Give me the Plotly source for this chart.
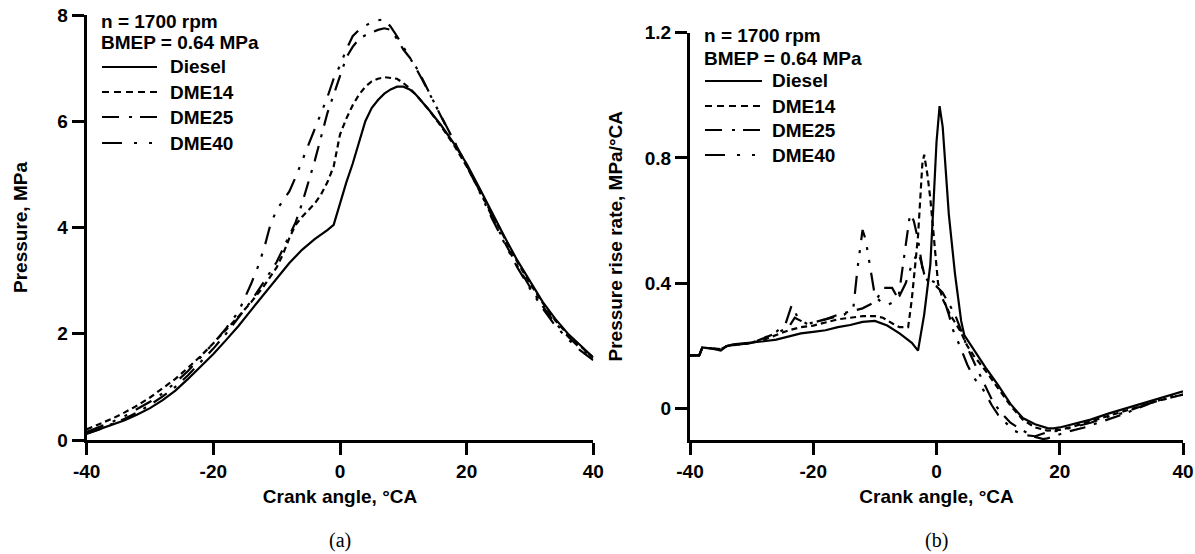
import plotly.graph_objects as go

# ---------------- data: (a) cylinder pressure ----------------
ca_p_diesel = [-40,-38,-36,-34,-32,-30,-28,-26,-24,-22,-20,-18,-16,-14,-12,-10,-8,-6,-4,-2,-1,0,1,2,3,4,5,6,7,8,9,10,11,12,14,16,18,20,22,24,26,28,30,32,34,36,38,40]
p_diesel = [0.12,0.2,0.28,0.37,0.48,0.6,0.75,0.93,1.15,1.38,1.62,1.88,2.15,2.45,2.75,3.05,3.33,3.58,3.78,3.95,4.05,4.45,4.85,5.2,5.6,6.0,6.25,6.4,6.52,6.6,6.65,6.65,6.6,6.5,6.22,5.92,5.58,5.2,4.75,4.28,3.82,3.38,2.98,2.6,2.28,2.0,1.78,1.55]

ca_p_dme14 = [-40,-38,-36,-34,-32,-30,-28,-26,-24,-22,-20,-18,-16,-14,-12,-10,-9,-8,-7,-6,-5,-4,-3,-2,-1,0,1,2,3,4,5,6,7,8,9,10,11,12,14,16,18,20,22,24,26,28,30,32,34,36,38,40]
p_dme14 = [0.2,0.3,0.4,0.52,0.65,0.8,0.97,1.15,1.36,1.58,1.82,2.07,2.33,2.6,2.9,3.25,3.5,3.8,4.05,4.2,4.32,4.45,4.62,4.85,5.15,5.75,6.05,6.3,6.5,6.65,6.75,6.8,6.83,6.82,6.8,6.72,6.62,6.5,6.22,5.9,5.55,5.15,4.7,4.25,3.8,3.35,2.95,2.58,2.25,1.98,1.76,1.55]

ca_p_dme25 = [-40,-38,-36,-34,-32,-30,-28,-26,-24,-22,-20,-18,-16,-14,-12,-10,-9,-8,-7,-6,-5,-4,-3,-2,-1,0,1,2,3,4,5,6,7,8,9,10,11,12,13,14,16,18,20,22,24,26,28,30,32,34,36,38,40]
p_dme25 = [0.12,0.2,0.3,0.4,0.52,0.66,0.82,1.0,1.22,1.46,1.72,2.0,2.3,2.62,2.98,3.35,3.6,3.85,4.1,4.45,4.85,5.25,5.7,6.15,6.5,6.85,7.2,7.4,7.55,7.62,7.67,7.72,7.75,7.72,7.55,7.35,7.2,7.02,6.8,6.55,6.08,5.62,5.18,4.7,4.2,3.72,3.28,2.88,2.52,2.2,1.95,1.72,1.55]

ca_p_dme40 = [-40,-38,-36,-34,-32,-30,-28,-26,-24,-22,-20,-18,-16,-14,-13,-12,-11,-10,-9,-8,-7,-6,-5,-4,-3,-2,-1,0,1,2,3,4,5,6,7,8,9,10,11,12,13,14,16,18,20,22,24,26,28,30,32,34,36,38,40]
p_dme40 = [0.15,0.24,0.34,0.45,0.58,0.72,0.88,1.08,1.3,1.55,1.82,2.1,2.42,2.95,3.25,3.6,4.05,4.33,4.5,4.68,4.95,5.25,5.55,5.85,6.15,6.45,6.8,7.05,7.35,7.6,7.72,7.8,7.86,7.9,7.92,7.78,7.6,7.4,7.22,7.0,6.78,6.55,6.1,5.63,5.17,4.68,4.17,3.7,3.25,2.85,2.48,2.15,1.9,1.68,1.5]

# ---------------- data: (b) pressure rise rate ----------------
ca_r_diesel = [-40,-38.5,-38,-36,-35,-34,-33,-30,-28,-26,-24,-22,-20,-18,-16,-14,-12,-10,-8,-6,-4,-3,-2,-1,-0.5,0,0.5,1,1.5,2,3,4,4.5,5,6,7,8,10,12,14,16,18,19,20,22,25,28,30,33,36,40]
r_diesel = [0.17,0.17,0.195,0.19,0.185,0.2,0.205,0.21,0.215,0.22,0.23,0.24,0.245,0.25,0.26,0.267,0.277,0.28,0.265,0.24,0.21,0.185,0.3,0.46,0.65,0.85,0.965,0.9,0.76,0.62,0.43,0.28,0.235,0.22,0.19,0.16,0.13,0.075,0.015,-0.03,-0.05,-0.062,-0.063,-0.06,-0.05,-0.035,-0.015,-0.003,0.015,0.033,0.055]

ca_r_dme14 = [-40,-38.5,-38,-35,-34,-30,-28,-26,-24,-22,-20,-18,-16,-14,-12,-10,-8.7,-7,-6,-4.6,-4,-3,-2.3,-2,-1.5,-1,-0.25,0.25,1,2.2,3.8,5,6,8,10,12,14,16,18,20,22,25,28,30,33,36,40]
r_dme14 = [0.17,0.17,0.195,0.19,0.2,0.21,0.22,0.235,0.25,0.26,0.265,0.275,0.285,0.29,0.295,0.295,0.29,0.27,0.26,0.26,0.35,0.55,0.78,0.81,0.75,0.67,0.5,0.4,0.35,0.3,0.25,0.2,0.17,0.12,0.065,0.01,-0.035,-0.06,-0.07,-0.068,-0.058,-0.04,-0.022,-0.01,0.008,0.025,0.045]

ca_r_dme25 = [-40,-38.5,-38,-35,-34,-30,-28,-26,-25,-24,-23,-22,-21,-20,-18,-16,-14,-12,-10,-8.6,-7.2,-6.2,-5.5,-4.8,-4.3,-3.7,-3,-2.3,-1.5,-1,0,1,2.2,3,4,4.9,6.5,8,9.2,10.6,12,14,16,17.3,18,19.5,21,24,27,30,35,40]
r_dme25 = [0.17,0.17,0.195,0.19,0.2,0.21,0.225,0.24,0.25,0.26,0.29,0.28,0.27,0.275,0.285,0.3,0.31,0.32,0.34,0.385,0.385,0.35,0.45,0.56,0.62,0.6,0.54,0.45,0.41,0.4,0.39,0.37,0.33,0.3,0.25,0.2,0.13,0.07,0.02,-0.015,-0.045,-0.07,-0.09,-0.097,-0.095,-0.085,-0.075,-0.06,-0.04,-0.02,0.02,0.045]

ca_r_dme40 = [-40,-38.5,-38,-35,-34,-30,-28,-26,-24.5,-23.5,-22.5,-21,-19,-17,-15,-13.5,-12.8,-12,-11.5,-10.5,-10,-9,-8,-7,-6,-5,-4,-3,-2.5,-2,-1,0,1,2,2.7,4,5,6,7.6,9,10,12.5,14.6,16,17,18,20,22,25,28,30,35,40]
r_dme40 = [0.17,0.17,0.195,0.19,0.2,0.21,0.225,0.245,0.27,0.33,0.29,0.27,0.28,0.29,0.3,0.32,0.45,0.57,0.54,0.42,0.36,0.34,0.33,0.34,0.36,0.4,0.46,0.5,0.47,0.43,0.41,0.4,0.36,0.3,0.25,0.19,0.14,0.1,0.06,0.01,-0.02,-0.07,-0.085,-0.088,-0.082,-0.075,-0.07,-0.06,-0.045,-0.025,-0.015,0.02,0.05]

names = ["Diesel", "DME14", "DME25", "DME40"]
legend_head = ["n = 1700 rpm", "BMEP = 0.64 MPa"]
x_tickvals = [-40, -20, 0, 20, 40]
x_ticktext = ["-40", "-20", "0", "20", "40"]
p_tickvals = [0, 2, 4, 6, 8]
p_ticktext = ["0", "2", "4", "6", "8"]
r_tickvals = [0, 0.4, 0.8, 1.2]
r_ticktext = ["0", "0.4", "0.8", "1.2"]

dashes = ["solid", "6px,4px", "16px,9px,3px,9px", "18px,10px,3px,10px,3px,10px"]
legend_dashes = ["solid", "7px,5px", "17px,10px,3px,8px", "20px,12px,3px,12px,3px,12px"]

W, H = 1195, 554
FONT = "Liberation Sans, Arial, sans-serif"
LW = 2.2


def fx(v):
    return v / W


def fy(v):
    return 1 - v / H


fig = go.Figure()

p_x = [ca_p_diesel, ca_p_dme14, ca_p_dme25, ca_p_dme40]
p_y = [p_diesel, p_dme14, p_dme25, p_dme40]
r_x = [ca_r_diesel, ca_r_dme14, ca_r_dme25, ca_r_dme40]
r_y = [r_diesel, r_dme14, r_dme25, r_dme40]

for i, nm in enumerate(names):
    fig.add_trace(go.Scatter(x=p_x[i], y=p_y[i], mode="lines", name=nm, showlegend=False,
                             line=dict(color="black", width=LW, dash=dashes[i]),
                             xaxis="x", yaxis="y"))
for i, nm in enumerate(names):
    fig.add_trace(go.Scatter(x=r_x[i], y=r_y[i], mode="lines", name=nm, showlegend=False,
                             line=dict(color="black", width=LW, dash=dashes[i]),
                             xaxis="x2", yaxis="y2"))

axis_common = dict(showline=True, linecolor="black", linewidth=3, ticks="outside",
                   ticklen=12, tickwidth=3, tickcolor="black", showgrid=False,
                   zeroline=False, mirror=False,
                   tickfont=dict(family=FONT, size=19, color="black", weight="bold"))

title_font = dict(family=FONT, size=19, color="black", weight="bold")
bold = dict(family=FONT, size=19, color="black", weight="bold")

# legend blocks (one per panel): header lines + line samples with labels
annotations = []
shapes = []
legend_blocks = [
    dict(x0=102, head_y=[21.7, 43.0], item_y=[67, 92, 117, 143], s_len=55, t_x=170),
    dict(x0=705, head_y=[35.0, 58.0], item_y=[81, 106, 130, 155], s_len=57, t_x=772),
]
for blk in legend_blocks:
    for txt, yy in zip(legend_head, blk["head_y"]):
        annotations.append(dict(text=txt, x=fx(blk["x0"] - 2), y=fy(yy), xref="paper", yref="paper",
                                showarrow=False, xanchor="left", yanchor="middle", font=bold,
                                borderpad=0))
    for nm, dsh, yy in zip(names, legend_dashes, blk["item_y"]):
        shapes.append(dict(type="line", xref="paper", yref="paper",
                           x0=fx(blk["x0"]), x1=fx(blk["x0"] + blk["s_len"]),
                           y0=fy(yy), y1=fy(yy),
                           line=dict(color="black", width=2.2, dash=dsh)))
        annotations.append(dict(text=nm, x=fx(blk["t_x"] - 1), y=fy(yy), xref="paper", yref="paper",
                                showarrow=False, xanchor="left", yanchor="middle", font=bold,
                                borderpad=0))

serif = dict(family="Liberation Serif, Times New Roman, serif", size=20, color="black")
annotations.append(dict(text="(a)", x=fx(340), y=fy(540), xref="paper", yref="paper",
                        showarrow=False, xanchor="center", yanchor="middle", font=serif))
annotations.append(dict(text="(b)", x=fx(936), y=fy(540), xref="paper", yref="paper",
                        showarrow=False, xanchor="center", yanchor="middle", font=serif))

fig.update_layout(
    width=W, height=H,
    margin=dict(l=0, r=0, t=0, b=0),
    paper_bgcolor="white", plot_bgcolor="white",
    template="none",
    showlegend=False,
    xaxis=dict(domain=[fx(86.7), fx(593.3)], range=[-40, 40],
               tickvals=x_tickvals, ticktext=x_ticktext,
               anchor="y", title=dict(text="Crank angle, °CA", font=title_font, standoff=9),
               **axis_common),
    yaxis=dict(domain=[fy(440), fy(15)], range=[0, 8],
               tickvals=p_tickvals, ticktext=p_ticktext,
               anchor="x", title=dict(text="Pressure, MPa", font=title_font, standoff=25),
               **axis_common),
    xaxis2=dict(domain=[fx(690), fx(1183)], range=[-40, 40],
                tickvals=x_tickvals, ticktext=x_ticktext,
                anchor="y2", title=dict(text="Crank angle, °CA", font=title_font, standoff=9),
                **axis_common),
    yaxis2=dict(domain=[fy(440), fy(32.5)], range=[-0.1, 1.2],
                tickvals=r_tickvals, ticktext=r_ticktext,
                anchor="x2", title=dict(text="Pressure rise rate, MPa/°CA", font=title_font, standoff=18),
                **axis_common),
    annotations=annotations,
    shapes=shapes,
)

fig.write_html("out.html")
